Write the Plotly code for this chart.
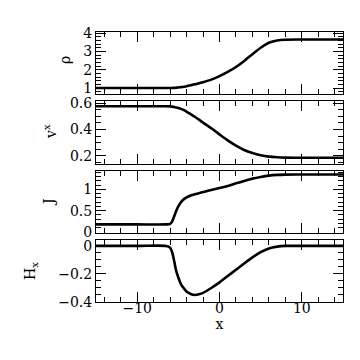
import plotly.graph_objects as go
from plotly.subplots import make_subplots

# shared x grid
x = [-15, -10, -6.5, -6, -5.75, -5.5, -5.25, -5, -4.75, -4.5, -4, -3.5, -3, -2.5,
     -2, -1, 0, 1, 2, 3, 4, 5, 6, 7, 8, 10, 15]

rho = [1, 1, 1, 1, 1.005, 1.01, 1.02, 1.03, 1.045, 1.06, 1.1, 1.15, 1.2, 1.26,
       1.32, 1.46, 1.65, 1.88, 2.15, 2.48, 2.85, 3.2, 3.47, 3.6, 3.64, 3.65, 3.65]

vx = [0.577, 0.577, 0.577, 0.576, 0.574, 0.571, 0.568, 0.564, 0.559, 0.553, 0.537,
      0.517, 0.497, 0.475, 0.453, 0.41, 0.363, 0.318, 0.278, 0.245, 0.222, 0.205,
      0.194, 0.189, 0.187, 0.186, 0.186]

J = [0.18, 0.18, 0.18, 0.19, 0.25, 0.37, 0.5, 0.6, 0.68, 0.74, 0.81, 0.855, 0.885,
     0.91, 0.935, 0.985, 1.03, 1.08, 1.14, 1.195, 1.25, 1.29, 1.32, 1.337, 1.344,
     1.345, 1.345]

Hx = [0, 0, 0, -0.012, -0.045, -0.11, -0.18, -0.225, -0.265, -0.29, -0.325, -0.343,
      -0.35, -0.345, -0.335, -0.3, -0.26, -0.215, -0.17, -0.125, -0.082, -0.045,
      -0.018, -0.005, 0, 0, 0]

series = [rho, vx, J, Hx]
FONT = "DejaVu Serif"

fig = make_subplots(rows=4, cols=1, shared_xaxes=True, vertical_spacing=7/270)

for i, y in enumerate(series):
    fig.add_trace(go.Scatter(x=x, y=y, mode="lines",
                             line=dict(color="black", width=2.6, shape="spline", smoothing=0.8),
                             showlegend=False), row=i+1, col=1)

axstyle = dict(showline=True, linecolor="black", linewidth=1, mirror="allticks",
               ticks="inside", ticklen=10, tickcolor="black", showgrid=False, zeroline=False,
               tickfont=dict(family=FONT, size=14, color="black"))

fig.update_xaxes(range=[-15, 15], dtick=10, tick0=0,
                 minor=dict(ticks="inside", dtick=2, tick0=0, ticklen=5, tickcolor="black"),
                 **axstyle)
fig.update_xaxes(title=dict(text="x", font=dict(family=FONT, size=14, color="black"), standoff=0),
                 ticklabelstandoff=-7, row=4, col=1)

# y axes: range, major ticks, minor step
yset = [
    ([0.66, 4.06], [1, 2, 3, 4], ["1", "2", "3", "4"], 0.2),
    ([0.142, 0.615], [0.2, 0.4, 0.6], ["0.2", "0.4", "0.6"], 0.05),
    ([-0.015, 1.44], [0, 0.5, 1], ["0", "0.5", "1"], 0.1),
    ([-0.4, 0.044], [-0.4, -0.2, 0], ["\u22120.4", "\u22120.2", "0"], 0.05),
]
for i, (rng, tv, tt, mstep) in enumerate(yset):
    fig.update_yaxes(range=rng, tickvals=tv, ticktext=tt,
                     minor=dict(ticks="inside", dtick=mstep, tick0=0, ticklen=5, tickcolor="black"),
                     row=i+1, col=1, **axstyle)

# y titles placed by hand (pixel -> paper)
L, W, T, H = 88, 247, 24, 270
titles = [("\u03c1", 57, 52), ("v<sup>x</sup>", 42, 124), ("J", 41, 194), ("H<sub>x</sub>", 23, 263)]
for txt, px, py in titles:
    fig.add_annotation(text=txt, x=(px - L) / W, y=(T + H - py) / H, xref="paper", yref="paper",
                       textangle=-90, showarrow=False, xanchor="center", yanchor="middle",
                       font=dict(family=FONT, size=14, color="black"))

fig.update_layout(width=360, height=360, margin=dict(l=88, r=25, t=24, b=66),
                  plot_bgcolor="white", paper_bgcolor="white")

fig.write_html("out.html")
